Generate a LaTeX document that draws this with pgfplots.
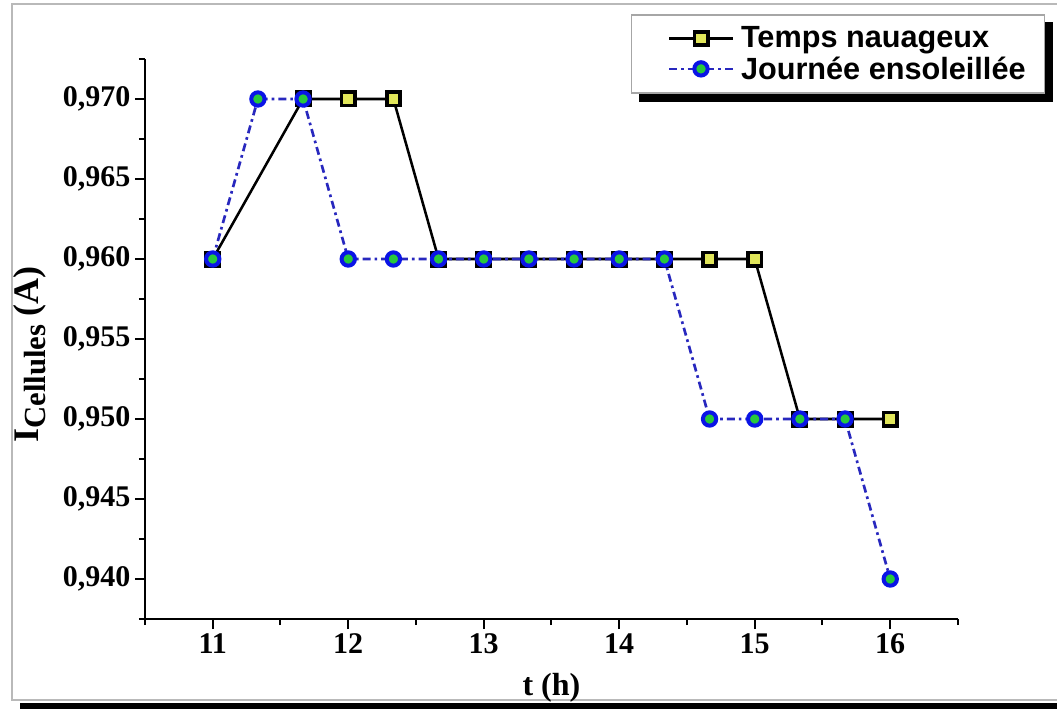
\documentclass[border=0pt]{standalone}
\usepackage{pgfplots}
\pgfplotsset{compat=1.18}
\usepackage{fontspec}
\setmainfont{Liberation Serif}
\newfontfamily\legfont{Liberation Sans}
\definecolor{sqfill}{RGB}{225,230,90}
\definecolor{cfill}{RGB}{40,200,60}
\definecolor{cedge}{RGB}{10,20,230}
\definecolor{bline}{RGB}{40,40,190}
\pgfdeclarelayer{background}
\pgfsetlayers{background,main}
\begin{document}
\begin{tikzpicture}
\path[use as bounding box] (0,0) rectangle (792.75pt,-531.75pt);
\draw[gray!55, line width=1.5pt] (800pt,-3pt) -- (9pt,-3pt) -- (9pt,-525pt) -- (800pt,-525pt);
\fill[black] (15pt,-527.5pt) rectangle (800pt,-533pt);
\begin{axis}[
  at={(108.75pt,-464.25pt)}, anchor=south west,
  scale only axis, width=609.75pt, height=420pt,
  xmin=10.5, xmax=16.5, ymin=0.9375, ymax=0.9725,
  axis x line*=bottom, axis y line*=left,
  axis line style={-, line width=1.5pt},
  tick align=outside,
  major tick length=7.5pt, minor tick length=4.5pt,
  every tick/.append style={black, line width=1.5pt},
  xtick={11,12,13,14,15,16},
  xticklabels={11,12,13,14,15,16},
  minor xtick={10.5,11.5,12.5,13.5,14.5,15.5,16.5},
  ytick={0.940,0.945,0.950,0.955,0.960,0.965,0.970},
  yticklabels={{0,940},{0,945},{0,950},{0,955},{0,960},{0,965},{0,970}},
  minor ytick={0.9375,0.9425,0.9475,0.9525,0.9575,0.9625,0.9675,0.9725},
  tick label style={font=\fontsize{22.5}{26}\selectfont\bfseries},
  xlabel={t (h)},
  xlabel style={at={(axis description cs:0.5,-0.123)}, anchor=center, font=\fontsize{24}{28}\selectfont\bfseries},
  ylabel={{\fontsize{27}{30}\selectfont I}\raisebox{-5pt}{\fontsize{23}{26}\selectfont Cellules}\hspace{6pt}{\fontsize{27}{30}\selectfont (A)}},
  ylabel style={at={(axis description cs:-0.1415,0.472)}, anchor=center, font=\bfseries},
  clip=false,
  legend image code/.code={
    \pgfpathmoveto{\pgfqpoint{-16pt}{0pt}}\pgfpathlineto{\pgfqpoint{-15pt}{0pt}}\pgfusepath{discard}
    \draw[mark repeat=2,mark phase=2,#1] plot coordinates {(0pt,0pt) (24pt,0pt) (48pt,0pt)};
  },
  legend style={name=leg, at={(axis description cs:1.107,1.080)}, anchor=north east,
    draw=gray!70, line width=1pt, fill=white,
    font=\legfont\bfseries\fontsize{23}{27}\selectfont,
    inner xsep=12pt, inner ysep=7pt, row sep=1pt, column sep=3pt},
  legend cell align=left,
]
\addplot[black, line width=1.9pt, mark=square*, mark size=5pt,
  mark options={solid, fill=sqfill, draw=black, line width=2.75pt}]
  coordinates {
  (11,0.960) (11.6667,0.970) (12,0.970) (12.3333,0.970) (12.6667,0.960)
  (13,0.960) (13.3333,0.960) (13.6667,0.960) (14,0.960) (14.3333,0.960)
  (14.6667,0.960) (15,0.960) (15.3333,0.950) (15.6667,0.950) (16,0.950)
  };
\addlegendentry{Temps nauageux}
\addplot[bline, line width=2pt, dash pattern=on 6pt off 3pt on 2pt off 3pt,
  mark=*, mark size=5pt,
  mark options={solid, fill=cfill, draw=cedge, line width=3pt}]
  coordinates {
  (11,0.960) (11.3333,0.970) (11.6667,0.970) (12,0.960) (12.3333,0.960)
  (12.6667,0.960) (13,0.960) (13.3333,0.960) (13.6667,0.960) (14,0.960)
  (14.3333,0.960) (14.6667,0.950) (15,0.950) (15.3333,0.950) (15.6667,0.950)
  (16,0.940)
  };
\addlegendentry{Journée ensoleillée}
\end{axis}
\begin{pgfonlayer}{background}
\fill[black] ([xshift=6pt,yshift=-6pt]leg.south west) rectangle ([xshift=6pt,yshift=-6pt]leg.north east);
\end{pgfonlayer}
\end{tikzpicture}
\end{document}
